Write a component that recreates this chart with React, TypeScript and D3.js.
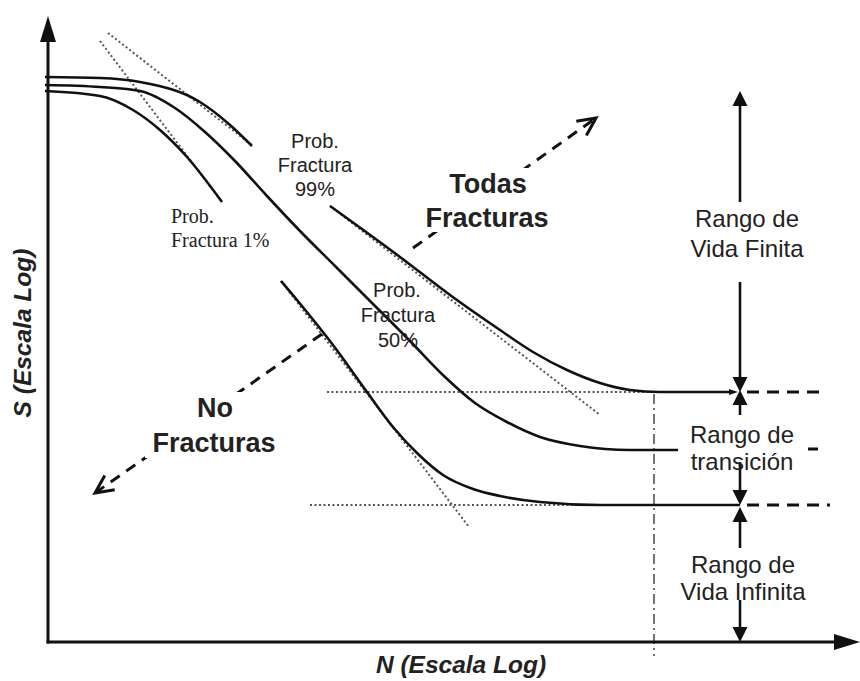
import React from 'react';
import * as d3 from 'd3';

// S-N diagram, schematic. Units are arbitrary "log" units measured from the origin.
const curve99a: [number, number][] = [[-3, 565], [52, 564], [92, 560], [152, 540], [182, 517], [204, 496]];
const curve99b: [number, number][] = [[282, 436], [352, 385], [402, 347], [452, 312], [485, 290], [519, 272], [552, 259], [582, 252], [612, 250], [682, 250]];
const curve50: [number, number][] = [[-3, 557], [52, 555], [92, 551], [127, 534], [157, 510], [187, 481], [219, 446], [252, 411], [287, 376], [322, 341], [362, 301], [397, 265], [427, 239], [457, 221], [492, 205], [532, 196], [582, 192], [630, 192]];
const curve1a: [number, number][] = [[-3, 551], [52, 546], [85, 532], [112, 512], [139, 485], [174, 440]];
const curve1b: [number, number][] = [[233, 361], [249, 342], [285, 297], [319, 250], [345, 215], [369, 189], [395, 167], [425, 153], [452, 146], [492, 140], [552, 137], [692, 137]];

// dotted tangents and limits
const tangentUpper: [number, number][][] = [[[60, 609], [205, 496]], [[282, 436], [552, 227]]];
const tangentLower: [number, number][][] = [[[52, 601], [174, 440]], [[233, 361], [421, 115]]];
const limitLines: [number, number][][] = [[[279, 250], [606, 250]], [[262, 137], [606, 137]]];
const cutoffX = 606;
const cutoffY: [number, number] = [248, -14];

// levels on the right side
const rangeX = 692;
const levelTop = 551;
const levelFinite = 250;
const levelInfinite = 137;

const dashRight: [number, number][][] = [[[699, 250], [774, 250]], [[699, 137], [782, 137]], [[760, 193], [770, 193]]];

// [from, to] arrows on the range line (tip at "to")
const rangeArrows: [number, number][] = [[440, levelTop], [360, levelFinite], [227, levelFinite + 2], [180, levelInfinite], [94, levelInfinite - 2], [42, 0]];

const xS = d3.scaleLinear().domain([0, 812]).range([48, 860]);
const yS = d3.scaleLinear().domain([0, 626]).range([642, 16]);

const FONT = "'Liberation Sans', Arial, sans-serif";
const INK = '#111';

function head(tx: number, ty: number, dx: number, dy: number, len: number, half: number) {
  const l = Math.hypot(dx, dy);
  const ux = dx / l, uy = dy / l;
  const bx = tx - ux * len, by = ty - uy * len;
  return `${tx},${ty} ${bx - uy * half},${by + ux * half} ${bx + uy * half},${by - ux * half}`;
}

function openHead(tx: number, ty: number, dx: number, dy: number, len: number, ang: number) {
  const a = Math.atan2(dy, dx);
  const p1 = [tx - len * Math.cos(a - ang), ty - len * Math.sin(a - ang)];
  const p2 = [tx - len * Math.cos(a + ang), ty - len * Math.sin(a + ang)];
  return `M${p1[0]},${p1[1]}L${tx},${ty}L${p2[0]},${p2[1]}`;
}

export default function App() {
  const smooth = d3.line<[number, number]>().x(d => xS(d[0])).y(d => yS(d[1])).curve(d3.curveMonotoneX);
  const straight = d3.line<[number, number]>().x(d => xS(d[0])).y(d => yS(d[1]));

  const ox = xS(0), oy = yS(0);
  const rx = xS(rangeX);

  // dashed direction arrows (px)
  const todas = { x1: 413, y1: 248, x2: 596, y2: 118 };
  const noFr = { x1: 322, y1: 334, x2: 95, y2: 493 };

  const textStyle = { fontFamily: FONT, fill: '#222' };

  return (
    <svg width={860} height={681} style={{ position: 'absolute', left: 0, top: 0, background: '#fff' }}>
      <rect width={860} height={681} fill="#fff" />

      {/* dotted tangents */}
      {[...tangentUpper, ...tangentLower].map((seg, i) => (
        <path key={'t' + i} d={straight(seg) || ''} stroke="#555" strokeWidth={2} strokeDasharray="2,2.5" fill="none" />
      ))}
      {limitLines.map((seg, i) => (
        <path key={'l' + i} d={straight(seg) || ''} stroke="#555" strokeWidth={2} strokeDasharray="2,2.5" fill="none" />
      ))}
      <line x1={xS(cutoffX)} x2={xS(cutoffX)} y1={yS(cutoffY[0])} y2={yS(cutoffY[1])} stroke="#666" strokeWidth={1.8} strokeDasharray="10,4,2,4" />

      {/* S-N curves */}
      {[curve99a, curve99b, curve50, curve1a, curve1b].map((c, i) => (
        <path key={'c' + i} d={smooth(c) || ''} stroke={INK} strokeWidth={2.6} fill="none" />
      ))}
      <polygon points={head(xS(690), yS(250), 1, 0, 9, 3)} fill={INK} />

      {/* right dashed extensions */}
      {dashRight.map((seg, i) => (
        <path key={'d' + i} d={straight(seg) || ''} stroke={INK} strokeWidth={3} strokeDasharray="12,8" fill="none" />
      ))}

      {/* range arrows */}
      {rangeArrows.map(([from, to], i) => {
        const y1 = yS(from), y2 = yS(to);
        const dir = y2 > y1 ? 1 : -1;
        return (
          <g key={'r' + i}>
            <line x1={rx} x2={rx} y1={y1} y2={y2 - dir * 10} stroke={INK} strokeWidth={2.6} />
            <polygon points={head(rx, y2, 0, dir, 15, 7.5)} fill={INK} />
          </g>
        );
      })}

      {/* direction arrows */}
      <line {...todas} stroke={INK} strokeWidth={3} strokeDasharray="11,8" />
      <path d={openHead(todas.x2, todas.y2, todas.x2 - todas.x1, todas.y2 - todas.y1, 20, 0.45)} stroke={INK} strokeWidth={3} fill="none" />
      <line {...noFr} stroke={INK} strokeWidth={3} strokeDasharray="11,8" />
      <path d={openHead(noFr.x2, noFr.y2, noFr.x2 - noFr.x1, noFr.y2 - noFr.y1, 20, 0.45)} stroke={INK} strokeWidth={3} fill="none" />

      {/* axes */}
      <line x1={ox} x2={ox} y1={oy + 1.5} y2={yS(601)} stroke={INK} strokeWidth={3} />
      <polygon points={head(ox, yS(626), 0, -1, 26, 8)} fill={INK} />
      <line x1={ox - 1.5} x2={xS(790)} y1={oy} y2={oy} stroke={INK} strokeWidth={3} />
      <polygon points={head(xS(812), oy, 1, 0, 26, 8)} fill={INK} />

      {/* labels with white boxes */}
      <rect x={418} y={168} width={140} height={64} fill="#fff" />
      <text x={488} y={193} textAnchor="middle" fontSize={27} fontWeight="bold" style={textStyle}>Todas</text>
      <text x={487} y={227} textAnchor="middle" fontSize={27} fontWeight="bold" style={textStyle}>Fracturas</text>

      <rect x={145} y={392} width={140} height={66} fill="#fff" />
      <text x={215} y={417} textAnchor="middle" fontSize={27} fontWeight="bold" style={textStyle}>No</text>
      <text x={214} y={452} textAnchor="middle" fontSize={27} fontWeight="bold" style={textStyle}>Fracturas</text>

      <g fontSize={20} textAnchor="middle" style={textStyle}>
        <text x={315} y={148}>Prob.</text>
        <text x={315} y={172}>Fractura</text>
        <text x={315} y={196}>99%</text>
        <text x={397} y={297}>Prob.</text>
        <text x={398} y={322}>Fractura</text>
        <text x={398} y={347}>50%</text>
      </g>
      <g fontSize={20} style={{ fontFamily: "'Liberation Serif', 'Times New Roman', serif", fill: '#222' }}>
        <text x={171} y={223}>Prob.</text>
        <text x={171} y={247}>Fractura 1%</text>
      </g>

      <g fontSize={24} textAnchor="middle" style={textStyle}>
        <text x={747} y={227}>Rango de</text>
        <text x={747} y={257}>Vida Finita</text>
        <text x={742} y={443}>Rango de</text>
        <text x={742} y={470}>transición</text>
        <text x={743} y={573}>Rango de</text>
        <text x={743} y={600}>Vida Infinita</text>
      </g>

      {/* axis titles */}
      <text transform="translate(31,333) rotate(-90)" textAnchor="middle" fontSize={24.5} fontWeight="bold" fontStyle="italic" style={textStyle}>S (Escala Log)</text>
      <text x={461} y={673} textAnchor="middle" fontSize={24.5} fontWeight="bold" fontStyle="italic" style={textStyle}>N (Escala Log)</text>
    </svg>
  );
}
